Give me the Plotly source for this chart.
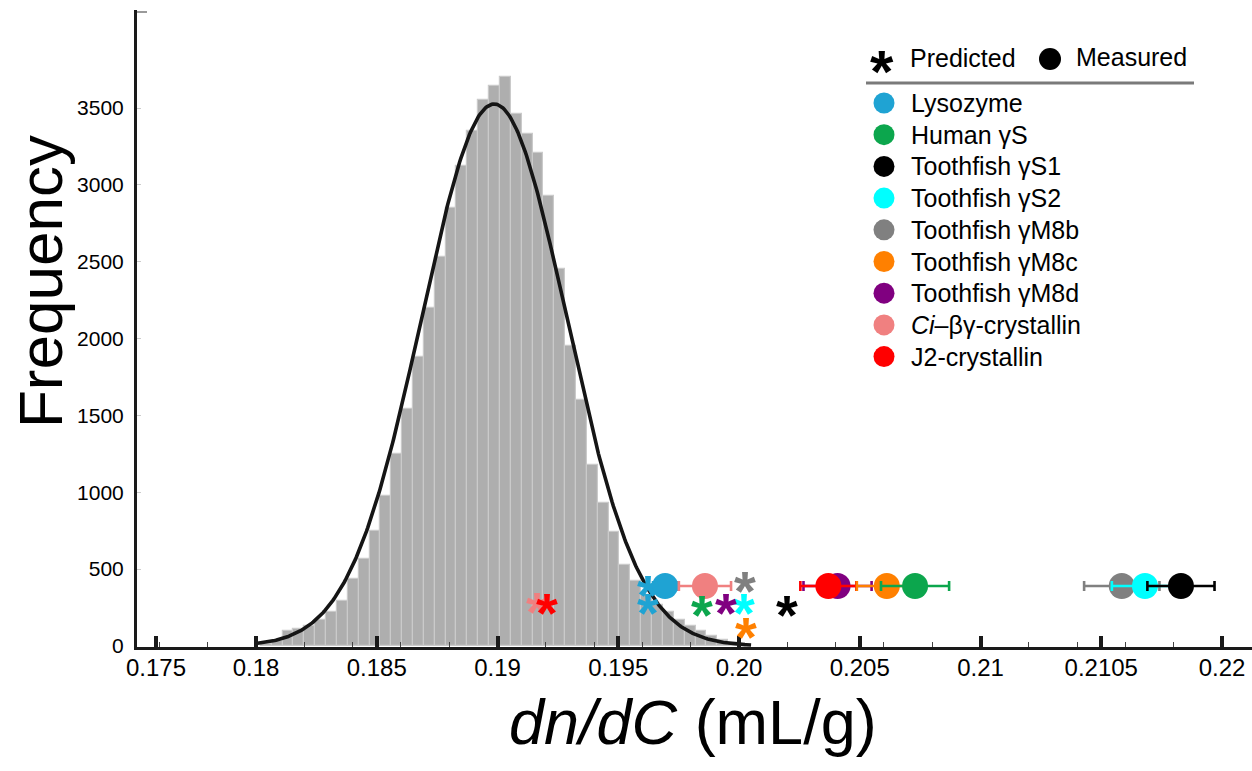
import numpy as np
import plotly.graph_objects as go

# ---- histogram of predicted dn/dC values ----
bin_start = 0.1802
bin_width = 0.00045
counts = [15, 30, 100, 112, 128, 166, 220, 295, 436, 566, 749, 977, 1250, 1540,
          1880, 2200, 2530, 2850, 3120, 3350, 3550, 3640, 3700, 3460, 3330, 3210,
          2930, 2450, 1950, 1600, 1180, 930, 740, 530, 420, 330, 270, 220, 170,
          130, 95, 65, 40, 20]

# ---- normal fit to the histogram ----
fit_mean = 0.18986
fit_sd = 0.0030
fit_peak = 3526
fit_from, fit_to = 0.1800, 0.2005

# ---- axis labels ----
x_tickvals = [0.17586, 0.180, 0.185, 0.190, 0.195, 0.200, 0.205, 0.210, 0.215, 0.220]
x_ticktext = ["0.175", "0.18", "0.185", "0.19", "0.195", "0.20", "0.205", "0.21", "0.2105", "0.22"]
y_tickvals = [0, 500, 1000, 1500, 2000, 2500, 3000, 3500]

# ---- proteins ----
proteins = ["Lysozyme", "Human γS", "Toothfish γS1", "Toothfish γS2", "Toothfish γM8b",
            "Toothfish γM8c", "Toothfish γM8d", "<i>Ci</i>–βγ-crystallin", "J2-crystallin"]
colors = ["#1FA3D3", "#0CA64D", "#000000", "#00FFFF", "#808080",
          "#FF8000", "#800080", "#F08080", "#FF0000"]

# measured dn/dC (circles with error bars), in drawing order
meas_protein = ["Lysozyme", "<i>Ci</i>–βγ-crystallin", "Toothfish γM8d", "J2-crystallin",
                "Toothfish γM8c", "Human γS", "Toothfish γM8b", "Toothfish γS2", "Toothfish γS1"]
meas_value = [0.19694, 0.19859, 0.20408, 0.20370, 0.20612, 0.20729, 0.21585, 0.21681, 0.21830]
meas_err = [0.00050, 0.00108, 0.00141, 0.00116, 0.00124, 0.00141, 0.00156, 0.00137, 0.00139]
meas_level = 390

# predicted dn/dC (asterisks)
pred_protein = ["Lysozyme", "Lysozyme", "Human γS", "Toothfish γS1", "Toothfish γS2",
                "Toothfish γM8b", "Toothfish γM8c", "Toothfish γM8d",
                "<i>Ci</i>–βγ-crystallin", "J2-crystallin"]
pred_value = [0.19623, 0.19623, 0.19846, 0.20197, 0.20021, 0.20025, 0.20029, 0.19946,
              0.19162, 0.19204]
pred_level = [397, 280, 267, 267, 280, 423, 124, 280, 288, 280]

color_of = dict(zip(proteins, colors))

FONT = "Liberation Sans, Arial, Helvetica, sans-serif"
W, H = 1252, 771
ML, MR, MT, MB = 137, 0, 10, 124
PW, PH = W - ML - MR, H - MT - MB


def px(xp):
    return (xp - ML) / PW


def py(yp):
    return (H - MB - yp) / PH


fig = go.Figure()

# histogram bars
centers = bin_start + bin_width * (np.arange(len(counts)) + 0.5)
fig.add_trace(go.Bar(
    x=centers, y=counts, width=bin_width,
    marker=dict(color="#AEAEAE", line=dict(color="#CACACA", width=1.2)),
    hoverinfo="skip",
))

# fitted normal curve
xs = np.linspace(fit_from, fit_to, 400)
ys = fit_peak * np.exp(-0.5 * ((xs - fit_mean) / fit_sd) ** 2)
fig.add_trace(go.Scatter(x=xs, y=ys, mode="lines",
                         line=dict(color="#151515", width=3.6), hoverinfo="skip"))

# measured values
for name, v, e in zip(meas_protein, meas_value, meas_err):
    c = color_of[name]
    fig.add_trace(go.Scatter(
        x=[v], y=[meas_level], mode="markers",
        marker=dict(size=26, color=c, line=dict(width=0)),
        error_x=dict(type="data", array=[e], color=c, thickness=2.6, width=5),
        name=name,
    ))

annotations = []
STAR_SIZE = 56
for name, v, lvl in zip(pred_protein, pred_value, pred_level):
    annotations.append(dict(
        x=v, y=lvl, xref="x", yref="y", text="<b>*</b>", showarrow=False,
        font=dict(family=FONT, size=STAR_SIZE, color=color_of[name]),
        xanchor="center", yanchor="middle", yshift=-0.22 * STAR_SIZE + 3,
    ))

# axis titles
annotations.append(dict(
    x=px(40), y=py(282), xref="paper", yref="paper", text="Frequency",
    textangle=-90, showarrow=False, font=dict(family=FONT, size=62, color="black"),
    xanchor="center", yanchor="middle"))
annotations.append(dict(
    x=px(693), y=py(722), xref="paper", yref="paper", text="<i>dn/dC</i> (mL/g)",
    showarrow=False, font=dict(family=FONT, size=63, color="black"),
    xanchor="center", yanchor="middle"))

# key
shapes = []
LEG_FONT = 25
annotations.append(dict(
    x=px(882), y=py(63), xref="paper", yref="paper", text="<b>*</b>", showarrow=False,
    font=dict(family=FONT, size=60, color="black"), xanchor="center", yanchor="middle",
    yshift=-0.22 * 60 + 5))
annotations.append(dict(
    x=px(908), y=py(58), xref="paper", yref="paper", text="Predicted", showarrow=False,
    font=dict(family=FONT, size=LEG_FONT, color="black"), xanchor="left", yanchor="middle"))
shapes.append(dict(type="circle", xref="paper", yref="paper", xsizemode="pixel",
                   ysizemode="pixel", xanchor=px(1050), yanchor=py(59),
                   x0=-11, x1=11, y0=-11, y1=11, fillcolor="black", line=dict(width=0)))
annotations.append(dict(
    x=px(1074), y=py(57), xref="paper", yref="paper", text="Measured", showarrow=False,
    font=dict(family=FONT, size=LEG_FONT, color="black"), xanchor="left", yanchor="middle"))
shapes.append(dict(type="line", xref="paper", yref="paper", x0=px(866), x1=px(1194),
                   y0=py(83), y1=py(83), line=dict(color="#7A7A7A", width=3)))

row0, row_step = 103, 31.7
for i, (name, c) in enumerate(zip(proteins, colors)):
    yc = row0 + i * row_step
    shapes.append(dict(type="circle", xref="paper", yref="paper", xsizemode="pixel",
                       ysizemode="pixel", xanchor=px(884), yanchor=py(yc),
                       x0=-10.5, x1=10.5, y0=-10.5, y1=10.5, fillcolor=c,
                       line=dict(width=0)))
    annotations.append(dict(
        x=px(909), y=py(yc), xref="paper", yref="paper", text=name, showarrow=False,
        font=dict(family=FONT, size=LEG_FONT, color="black"),
        xanchor="left", yanchor="middle"))

# short cap at the top of the frequency axis
shapes.append(dict(type="line", xref="paper", yref="paper", x0=px(137), x1=px(147),
                   y0=py(12), y1=py(12), line=dict(color="#9A9A9A", width=2)))

fig.update_layout(
    width=W, height=H,
    margin=dict(l=ML, r=MR, t=MT, b=MB),
    paper_bgcolor="white", plot_bgcolor="white",
    showlegend=False, bargap=0,
    font=dict(family=FONT, color="black"),
    annotations=annotations, shapes=shapes,
    xaxis=dict(
        range=[0.175072, 0.221242], tickmode="array",
        tickvals=x_tickvals, ticktext=x_ticktext,
        ticks="inside", ticklen=11, tickwidth=4, tickcolor="#1A1A1A",
        showline=True, linewidth=3, linecolor="#1A1A1A",
        showgrid=False, zeroline=False,
        tickfont=dict(family=FONT, size=24, color="black"),
        ticklabelstandoff=-3,
        minor=dict(tickmode="linear", tick0=0.18, dtick=0.002, ticks="inside",
                   ticklen=5, tickwidth=1.2, tickcolor="#444444", showgrid=False),
    ),
    yaxis=dict(
        range=[-6.5, 4137.6], tickmode="array", tickvals=y_tickvals,
        ticks="inside", ticklen=4, tickwidth=1, tickcolor="#CCCCCC",
        showline=True, linewidth=3, linecolor="#1A1A1A",
        showgrid=False, zeroline=False,
        tickfont=dict(family=FONT, size=21, color="black"),
        ticklabelstandoff=6,
    ),
)

fig.write_html("out.html")
